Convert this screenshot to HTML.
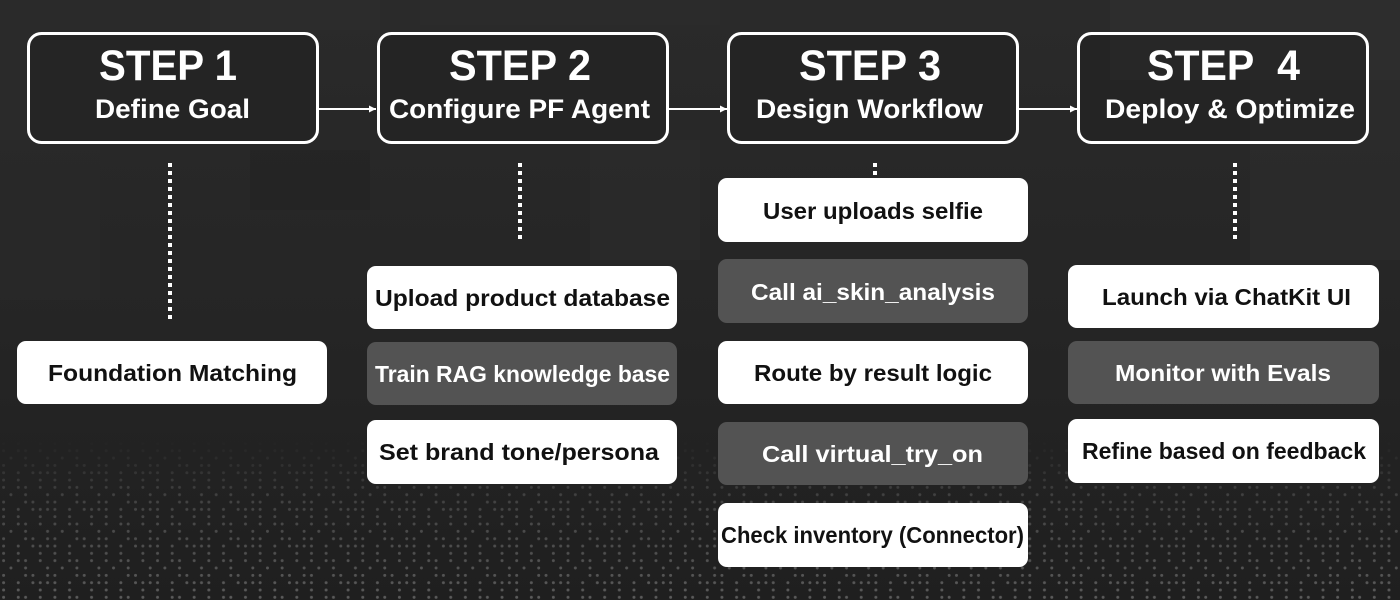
<!DOCTYPE html>
<html>
<head>
<meta charset="utf-8">
<style>
  html,body{margin:0;padding:0;background:#242424;}
  svg{display:block;}
  .h{font-family:"Liberation Sans",sans-serif;font-weight:bold;fill:#fff;}
  .it{font-family:"Liberation Sans",sans-serif;font-weight:bold;font-size:23px;}
</style>
</head>
<body>
<svg width="1400" height="600" viewBox="0 0 1400 600" xmlns="http://www.w3.org/2000/svg">
  <defs>
    <linearGradient id="bg" x1="0" y1="0" x2="0" y2="1">
      <stop offset="0" stop-color="#2a2a2a"/>
      <stop offset="0.55" stop-color="#252525"/>
      <stop offset="1" stop-color="#1f1f1f"/>
    </linearGradient>
    <pattern id="dots" x="0" y="0" width="51.31" height="36.65" patternUnits="userSpaceOnUse">
      <g fill="#6a6a6a">
        <circle cx="3.6" cy="3.6" r="1.5"/><circle cx="18.26" cy="3.6" r="1.5"/><circle cx="40.25" cy="3.6" r="1.5"/>
        <circle cx="3.6" cy="10.93" r="1.5"/><circle cx="18.26" cy="10.93" r="1.5"/><circle cx="25.59" cy="10.93" r="1.5"/><circle cx="40.25" cy="10.93" r="1.5"/>
        <circle cx="10.93" cy="18.26" r="1.5"/><circle cx="25.59" cy="18.26" r="1.5"/><circle cx="47.58" cy="18.26" r="1.5"/>
        <circle cx="3.6" cy="25.59" r="1.5"/><circle cx="25.59" cy="25.59" r="1.5"/><circle cx="32.92" cy="25.59" r="1.5"/><circle cx="47.58" cy="25.59" r="1.5"/>
        <circle cx="3.6" cy="32.92" r="1.5"/><circle cx="18.26" cy="32.92" r="1.5"/><circle cx="32.92" cy="32.92" r="1.5"/><circle cx="40.25" cy="32.92" r="1.5"/><circle cx="47.58" cy="32.92" r="1.5"/>
      </g>
    </pattern>
    <linearGradient id="fade" x1="0" y1="0" x2="0" y2="1">
      <stop offset="0" stop-color="#fff" stop-opacity="0"/>
      <stop offset="0.35" stop-color="#fff" stop-opacity="0.45"/>
      <stop offset="1" stop-color="#fff" stop-opacity="0.8"/>
    </linearGradient>
    <mask id="m">
      <rect x="0" y="440" width="1400" height="160" fill="url(#fade)"/>
    </mask>
    <marker id="ah" markerWidth="8" markerHeight="8" refX="7" refY="4" orient="auto" markerUnits="userSpaceOnUse">
      <path d="M0,0.5 L7,4 L0,7.5 Z" fill="#fff"/>
    </marker>
  </defs>

  <!-- background -->
  <rect width="1400" height="600" fill="url(#bg)"/>
  <rect x="0" y="0" width="120" height="140" fill="#2c2c2c" opacity="0.6"/>
  <rect x="210" y="0" width="170" height="30" fill="#2f2f2f" opacity="0.6"/>
  <rect x="420" y="0" width="300" height="25" fill="#2d2d2d" opacity="0.6"/>
  <rect x="1110" y="0" width="290" height="80" fill="#303030" opacity="0.6"/>
  <rect x="1250" y="80" width="150" height="180" fill="#2e2e2e" opacity="0.5"/>
  <rect x="590" y="140" width="110" height="120" fill="#2b2b2b" opacity="0.6"/>
  <rect x="0" y="140" width="100" height="160" fill="#2a2a2a" opacity="0.5"/>
  <rect x="250" y="150" width="120" height="60" fill="#222" opacity="0.5"/>
  <rect x="0" y="440" width="1400" height="160" fill="url(#dots)" mask="url(#m)"/>

  <!-- step boxes -->
  <g fill="rgba(28,28,28,0.35)" stroke="#fff" stroke-width="3">
    <rect x="28.5" y="33.5" width="289" height="109" rx="13"/>
    <rect x="378.5" y="33.5" width="289" height="109" rx="13"/>
    <rect x="728.5" y="33.5" width="289" height="109" rx="13"/>
    <rect x="1078.5" y="33.5" width="289" height="109" rx="13"/>
  </g>

  <!-- arrows -->
  <g stroke="#fff" stroke-width="2" marker-end="url(#ah)">
    <line x1="319" y1="109" x2="376" y2="109"/>
    <line x1="669" y1="109" x2="727" y2="109"/>
    <line x1="1019" y1="109" x2="1077" y2="109"/>
  </g>

  <!-- headings -->
  <g class="h">
    <text x="99" y="80" font-size="43" textLength="138" lengthAdjust="spacingAndGlyphs">STEP 1</text>
    <text x="95" y="118" font-size="27" textLength="155" lengthAdjust="spacingAndGlyphs">Define Goal</text>

    <text x="449" y="80" font-size="43" textLength="142" lengthAdjust="spacingAndGlyphs">STEP 2</text>
    <text x="389" y="118" font-size="27" textLength="261" lengthAdjust="spacingAndGlyphs">Configure PF Agent</text>

    <text x="799" y="80" font-size="43" textLength="142" lengthAdjust="spacingAndGlyphs">STEP 3</text>
    <text x="756" y="118" font-size="27" textLength="227" lengthAdjust="spacingAndGlyphs">Design Workflow</text>

    <text x="1147" y="80" font-size="43" textLength="153" lengthAdjust="spacingAndGlyphs" style="white-space:pre">STEP&#160; 4</text>
    <text x="1105" y="118" font-size="27" textLength="250" lengthAdjust="spacingAndGlyphs">Deploy &amp; Optimize</text>
  </g>

  <!-- dotted connectors -->
  <g stroke="#fff" stroke-width="4" stroke-dasharray="4 4">
    <line x1="170" y1="163" x2="170" y2="323"/>
    <line x1="520" y1="163" x2="520" y2="239"/>
    <line x1="875" y1="163" x2="875" y2="175"/>
    <line x1="1235" y1="163" x2="1235" y2="239"/>
  </g>

  <!-- Step 1 items -->
  <rect x="17" y="341" width="310" height="63" rx="9" fill="#fff"/>
  <text class="it" x="48" y="381" fill="#111" textLength="249" lengthAdjust="spacingAndGlyphs">Foundation Matching</text>

  <!-- Step 2 items -->
  <rect x="367" y="266" width="310" height="63" rx="9" fill="#fff"/>
  <text class="it" x="375" y="306" fill="#111" textLength="295" lengthAdjust="spacingAndGlyphs">Upload product database</text>
  <rect x="367" y="342" width="310" height="63" rx="9" fill="#535353"/>
  <text class="it" x="375" y="382" fill="#fff" textLength="295" lengthAdjust="spacingAndGlyphs">Train RAG knowledge base</text>
  <rect x="367" y="420" width="310" height="64" rx="9" fill="#fff"/>
  <text class="it" x="379" y="460" fill="#111" textLength="280" lengthAdjust="spacingAndGlyphs">Set brand tone/persona</text>

  <!-- Step 3 items -->
  <rect x="718" y="178" width="310" height="64" rx="9" fill="#fff"/>
  <text class="it" x="763" y="219" fill="#111" textLength="220" lengthAdjust="spacingAndGlyphs">User uploads selfie</text>
  <rect x="718" y="259" width="310" height="64" rx="9" fill="#535353"/>
  <text class="it" x="751" y="300" fill="#fff" textLength="244" lengthAdjust="spacingAndGlyphs">Call ai_skin_analysis</text>
  <rect x="718" y="341" width="310" height="63" rx="9" fill="#fff"/>
  <text class="it" x="754" y="381" fill="#111" textLength="238" lengthAdjust="spacingAndGlyphs">Route by result logic</text>
  <rect x="718" y="422" width="310" height="63" rx="9" fill="#535353"/>
  <text class="it" x="762" y="462" fill="#fff" textLength="221" lengthAdjust="spacingAndGlyphs">Call virtual_try_on</text>
  <rect x="718" y="503" width="310" height="64" rx="9" fill="#fff"/>
  <text class="it" x="721" y="543" fill="#111" textLength="303" lengthAdjust="spacingAndGlyphs">Check inventory (Connector)</text>

  <!-- Step 4 items -->
  <rect x="1068" y="265" width="311" height="63" rx="9" fill="#fff"/>
  <text class="it" x="1102" y="305" fill="#111" textLength="249" lengthAdjust="spacingAndGlyphs">Launch via ChatKit UI</text>
  <rect x="1068" y="341" width="311" height="63" rx="9" fill="#535353"/>
  <text class="it" x="1115" y="381" fill="#fff" textLength="216" lengthAdjust="spacingAndGlyphs">Monitor with Evals</text>
  <rect x="1068" y="419" width="311" height="64" rx="9" fill="#fff"/>
  <text class="it" x="1082" y="459" fill="#111" textLength="284" lengthAdjust="spacingAndGlyphs">Refine based on feedback</text>
</svg>
</body>
</html>
